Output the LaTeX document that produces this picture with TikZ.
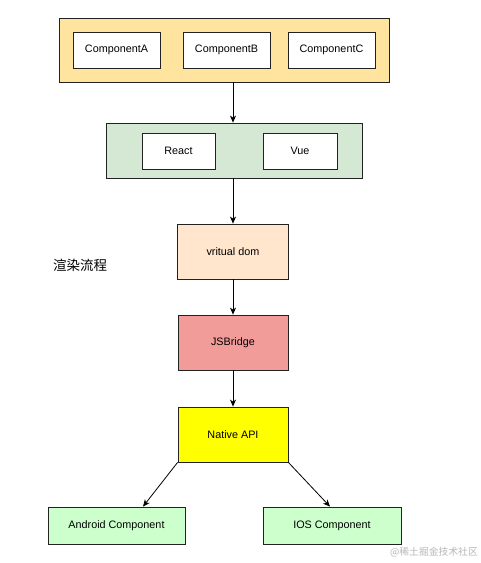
\documentclass[tikz,border=0pt]{standalone}
\usepackage{fontspec}
\setmainfont{Liberation Sans}
\newfontfamily\cjk{Noto Sans CJK SC}
\usetikzlibrary{arrows.meta}
\definecolor{topyellow}{HTML}{FFE49F}
\definecolor{fwgreen}{HTML}{D5E8D4}
\definecolor{vdom}{HTML}{FFE6CC}
\definecolor{jsb}{HTML}{F19C99}
\definecolor{nativey}{HTML}{FFFF00}
\definecolor{platg}{HTML}{CCFFCC}
\definecolor{edge}{HTML}{222222}
\tikzset{
  box/.style={draw=edge, line width=0.8pt, inner sep=0pt, align=center,
    font=\fontsize{10.8}{13}\selectfont},
  inbox/.style={box, fill=white, minimum width=87pt, minimum height=36pt},
  conn/.style={draw=black, line width=0.8pt, -{Stealth[length=7pt,width=6pt,inset=2pt]}},
}
\begin{document}
\begin{tikzpicture}[x=1pt,y=-1pt]
\useasboundingbox[fill=white] (0,0) rectangle (480,563);
% top group
\node[box, fill=topyellow, minimum width=330pt, minimum height=64pt] (top) at (224,50) {};
\node[inbox] (ca) at (116.5,50) {ComponentA};
\node[inbox] (cb) at (226.5,50) {ComponentB};
\node[inbox] (cc) at (331.5,50) {ComponentC};
% framework group
\node[box, fill=fwgreen, minimum width=256pt, minimum height=55pt] (fw) at (234,150.5) {};
\node[inbox, minimum width=73pt] (react) at (178.5,151) {React};
\node[inbox, minimum width=74pt] (vue) at (300,151) {Vue};
% chain
\node[box, fill=vdom, minimum width=111pt, minimum height=55pt] (vd) at (233,251.5) {vritual dom};
\node[box, fill=jsb, minimum width=110pt, minimum height=55pt] (js) at (233,342.5) {JSBridge};
\node[box, fill=nativey, minimum width=110pt, minimum height=55pt] (na) at (233,434.5) {Native API};
\node[box, fill=platg, minimum width=137pt, minimum height=37pt] (and) at (116.5,525.5) {Android Component};
\node[box, fill=platg, minimum width=138pt, minimum height=37pt] (ios) at (332,525.5) {IOS Component};
% label
\node[font=\cjk\fontsize{13.5}{16}\selectfont, inner sep=0pt] (lbl) at (80,265) {渲染流程};
% watermark
\node[font=\cjk\fontsize{9.8}{12}\selectfont, text=black!28, inner sep=0pt, anchor=east] (wm) at (478,552) {@稀土掘金技术社区};
% connectors
\draw[conn] (vd.north |- top.south) -- (vd.north |- fw.north);
\draw[conn] (vd.north |- fw.south) -- (vd.north);
\draw[conn] (vd.south) -- (js.north);
\draw[conn] (js.south) -- (na.north);
\draw[conn] (na.south west) -- ([xshift=26.5pt]and.north);
\draw[conn] (na.south east) -- ([xshift=-2pt]ios.north);
\end{tikzpicture}
\end{document}
